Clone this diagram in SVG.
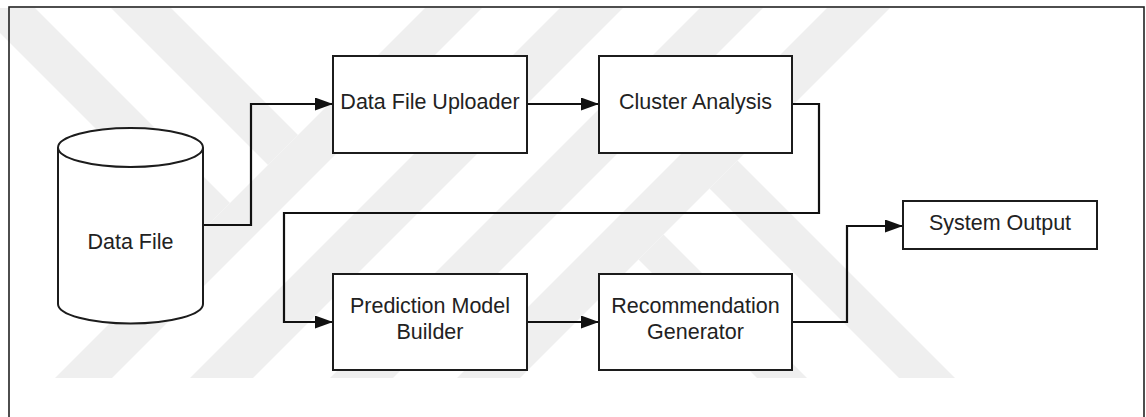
<svg xmlns="http://www.w3.org/2000/svg" width="1146" height="417" viewBox="0 0 1146 417">
<style>
.wm{fill:#efefef;stroke:none}
.box{fill:#ffffff;stroke:#1c1c1c;stroke-width:2}
.lbl{font-family:"Liberation Sans",Arial,sans-serif;font-size:21.5px;fill:#222222;text-anchor:middle}
.conn{fill:none;stroke:#111111;stroke-width:2.2;stroke-linejoin:miter}
</style>
<defs>
<marker id="arr" markerUnits="userSpaceOnUse" markerWidth="18" markerHeight="13" refX="18" refY="6.5" orient="auto">
<path d="M0,0 L18,6.5 L0,13 Z" fill="#111111"/>
</marker>
</defs>
<rect x="0" y="0" width="1146" height="417" fill="#ffffff"/>
<g id="watermark">
<polygon class="wm" points="55,378 425,8 482,8 112,378"/>
<polygon class="wm" points="190,378 560,8 623,8 253,378"/>
<polygon class="wm" points="330,378 700,8 763,8 393,378"/>
<polygon class="wm" points="457,378 827,8 890,8 520,378"/>
<polygon class="wm" points="-25,8 35,8 230,203 200,233"/>
<polygon class="wm" points="111,8 171,8 298,135 268,165"/>
<polygon class="wm" points="737.5,160.5 955,378 899,378 709.5,188.5"/>
<polygon class="wm" points="663.5,234.5 807,378 757,378 638.5,259.5"/>
</g>
<rect id="frame" x="9" y="7" width="1135" height="420" fill="none" stroke="#222222" stroke-width="1.6"/>
<g id="connectors">
<path class="conn" d="M203,225 H251 V104 H333" marker-end="url(#arr)"/>
<path class="conn" d="M527,104 H599" marker-end="url(#arr)"/>
<path class="conn" d="M792,104 H819 V213 H284 V322 H333" marker-end="url(#arr)"/>
<path class="conn" d="M527,322 H599" marker-end="url(#arr)"/>
<path class="conn" d="M792,322 H847 V226 H903" marker-end="url(#arr)"/>
</g>
<g id="data-file">
<path class="box" d="M58,147.5 V304 A72.5,19.5 0 0 0 203,304 V147.5"/>
<ellipse class="box" cx="130.5" cy="147.5" rx="72.5" ry="19.5"/>
<text class="lbl" x="130.5" y="249">Data File</text>
</g>
<g id="data-file-uploader">
<rect class="box" x="333" y="56" width="194" height="97"/>
<text class="lbl" x="430" y="109">Data File Uploader</text>
</g>
<g id="cluster-analysis">
<rect class="box" x="599" y="56" width="193" height="97"/>
<text class="lbl" x="695.5" y="109">Cluster Analysis</text>
</g>
<g id="prediction-model-builder">
<rect class="box" x="333" y="274" width="194" height="96"/>
<text class="lbl" x="430" y="313">Prediction Model</text>
<text class="lbl" x="430" y="339">Builder</text>
</g>
<g id="recommendation-generator">
<rect class="box" x="599" y="274" width="193" height="96"/>
<text class="lbl" x="695.5" y="313">Recommendation</text>
<text class="lbl" x="695.5" y="339">Generator</text>
</g>
<g id="system-output">
<rect class="box" x="903" y="201" width="194" height="48"/>
<text class="lbl" x="1000" y="230">System Output</text>
</g>
</svg>
